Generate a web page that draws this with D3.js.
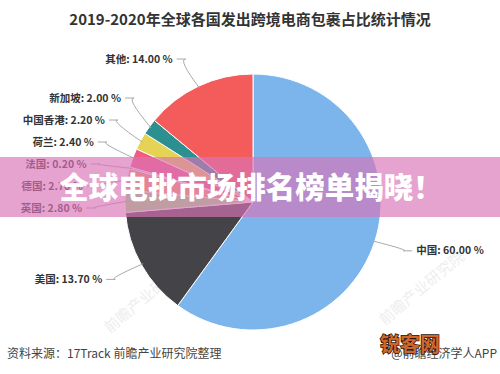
<!DOCTYPE html>
<html>
<head>
<meta charset="utf-8">
<script src="https://d3js.org/d3.v7.min.js"></script>
<style>
  body { margin: 0; background: #fff; }
  text { font-family: "Noto Sans CJK SC", "Noto Sans", sans-serif; }
</style>
</head>
<body>
<div id="chart"></div>
<script>
// data
var countries = ["中国", "美国", "英国", "德国", "法国", "荷兰", "中国香港", "新加坡", "其他"];
var shares = [60.00, 13.70, 2.80, 2.70, 0.20, 2.40, 2.20, 2.00, 14.00];
var colors = ["#7cb5ec", "#434348", "#90ed7d", "#f7a35c", "#8085e9", "#f15c80", "#e4d354", "#2b908f", "#f45b5b"];

var width = 500, height = 374;
var cx = 253, cy = 202, radius = 128, labelDist = 30;

var svg = d3.select("#chart").append("svg")
    .attr("width", width)
    .attr("height", height);

// title
svg.append("text")
    .attr("x", 250).attr("y", 25)
    .attr("text-anchor", "middle")
    .style("font-size", "15px")
    .style("font-weight", "bold")
    .style("fill", "#333")
    .text("2019-2020年全球各国发出跨境电商包裹占比统计情况");

var data = countries.map(function(c, i) { return {name: c, value: shares[i], color: colors[i]}; });

var pie = d3.pie().sort(null).value(function(d) { return d.value; });
var arcs = pie(data);

var arc = d3.arc().innerRadius(0).outerRadius(radius);

// faint watermarks (under everything else)
var marks = [[425, 292], [150, 300]];
svg.append("g").selectAll("text")
  .data(marks)
  .enter().append("text")
    .attr("transform", function(m) { return "translate(" + m[0] + "," + m[1] + ") rotate(-40)"; })
    .attr("text-anchor", "middle")
    .style("font-size", "15px")
    .style("fill", "#bbb")
    .style("opacity", 0.25)
    .text("前瞻产业研究院");

var g = svg.append("g").attr("transform", "translate(" + cx + "," + cy + ")");

g.selectAll("path.slice")
  .data(arcs)
  .enter().append("path")
    .attr("class", "slice")
    .attr("d", arc)
    .attr("fill", function(d) { return d.data.color; })
    .attr("stroke", "#fff")
    .attr("stroke-width", 1);

// label layout like highcharts: natural position on a bigger circle, then push apart
var labels = arcs.map(function(d) {
  var a = (d.startAngle + d.endAngle) / 2;
  return {
    d: d,
    angle: a,
    side: Math.sin(a) >= 0 ? 1 : -1,
    y: -(radius + labelDist) * Math.cos(a)
  };
});

function spread(list, gap) {
  list.sort(function(a, b) { return a.y - b.y; });
  for (var k = 0; k < 40; k++) {
    for (var i = 1; i < list.length; i++) {
      var diff = list[i].y - list[i - 1].y;
      if (diff < gap) {
        var push = (gap - diff) / 2;
        list[i].y += push;
        list[i - 1].y -= push;
      }
    }
  }
}
spread(labels.filter(function(l) { return l.side < 0; }), 22);
spread(labels.filter(function(l) { return l.side > 0; }), 22);

var R = radius + labelDist;
labels.forEach(function(l) {
  var dy = Math.max(-R, Math.min(R, l.y));
  l.x = l.side * (Math.sqrt(R * R - dy * dy) + 13);
});

var lg = g.append("g");

lg.selectAll("path.conn")
  .data(labels)
  .enter().append("path")
    .attr("class", "conn")
    .attr("fill", "none")
    .attr("stroke", "#aaa")
    .attr("stroke-width", 1)
    .attr("d", function(l) {
      var ex = (radius - 2) * Math.sin(l.angle), ey = -(radius - 2) * Math.cos(l.angle);
      var sx = l.x - l.side * 4, sy = l.y;
      var mx = l.x - l.side * 13;
      return "M" + sx + "," + sy + " L" + mx + "," + sy +
             " Q" + (mx + l.side * 8) + "," + sy + " " + ex + "," + ey;
    });

lg.selectAll("text.lbl")
  .data(labels)
  .enter().append("text")
    .attr("class", "lbl")
    .attr("x", function(l) { return l.x; })
    .attr("y", function(l) { return l.y; })
    .attr("dy", "0.35em")
    .attr("text-anchor", function(l) { return l.side < 0 ? "end" : "start"; })
    .style("font-size", "10.5px")
    .style("font-weight", "bold")
    .style("fill", "#333")
    .text(function(l) { return l.d.data.name + ": " + l.d.data.value.toFixed(2) + " %"; });

// banner overlay
svg.append("rect")
    .attr("x", 0).attr("y", 157)
    .attr("width", width).attr("height", 60)
    .attr("fill", "rgb(217,115,183)")
    .attr("fill-opacity", 0.66);

svg.append("text")
    .attr("x", 251).attr("y", 198)
    .attr("text-anchor", "middle")
    .style("font-size", "29.5px")
    .style("font-weight", "900")
    .style("fill", "#fff")
    .text("全球电批市场排名榜单揭晓！");

// footer
svg.append("text")
    .attr("x", 7).attr("y", 358)
    .style("font-size", "12px")
    .style("fill", "#444")
    .text("资料来源：17Track 前瞻产业研究院整理");

svg.append("text")
    .attr("x", 497).attr("y", 358)
    .attr("text-anchor", "end")
    .style("font-size", "12px")
    .style("fill", "#444")
    .text("@前瞻经济学人APP");

svg.append("text")
    .attr("x", 380).attr("y", 352)
    .style("font-size", "20px")
    .style("font-weight", "bold")
    .style("fill", "#d0672a")
    .style("stroke", "#2a1208")
    .style("stroke-width", 1.5)
    .style("paint-order", "stroke")
    .text("锐客网");
</script>
</body>
</html>
